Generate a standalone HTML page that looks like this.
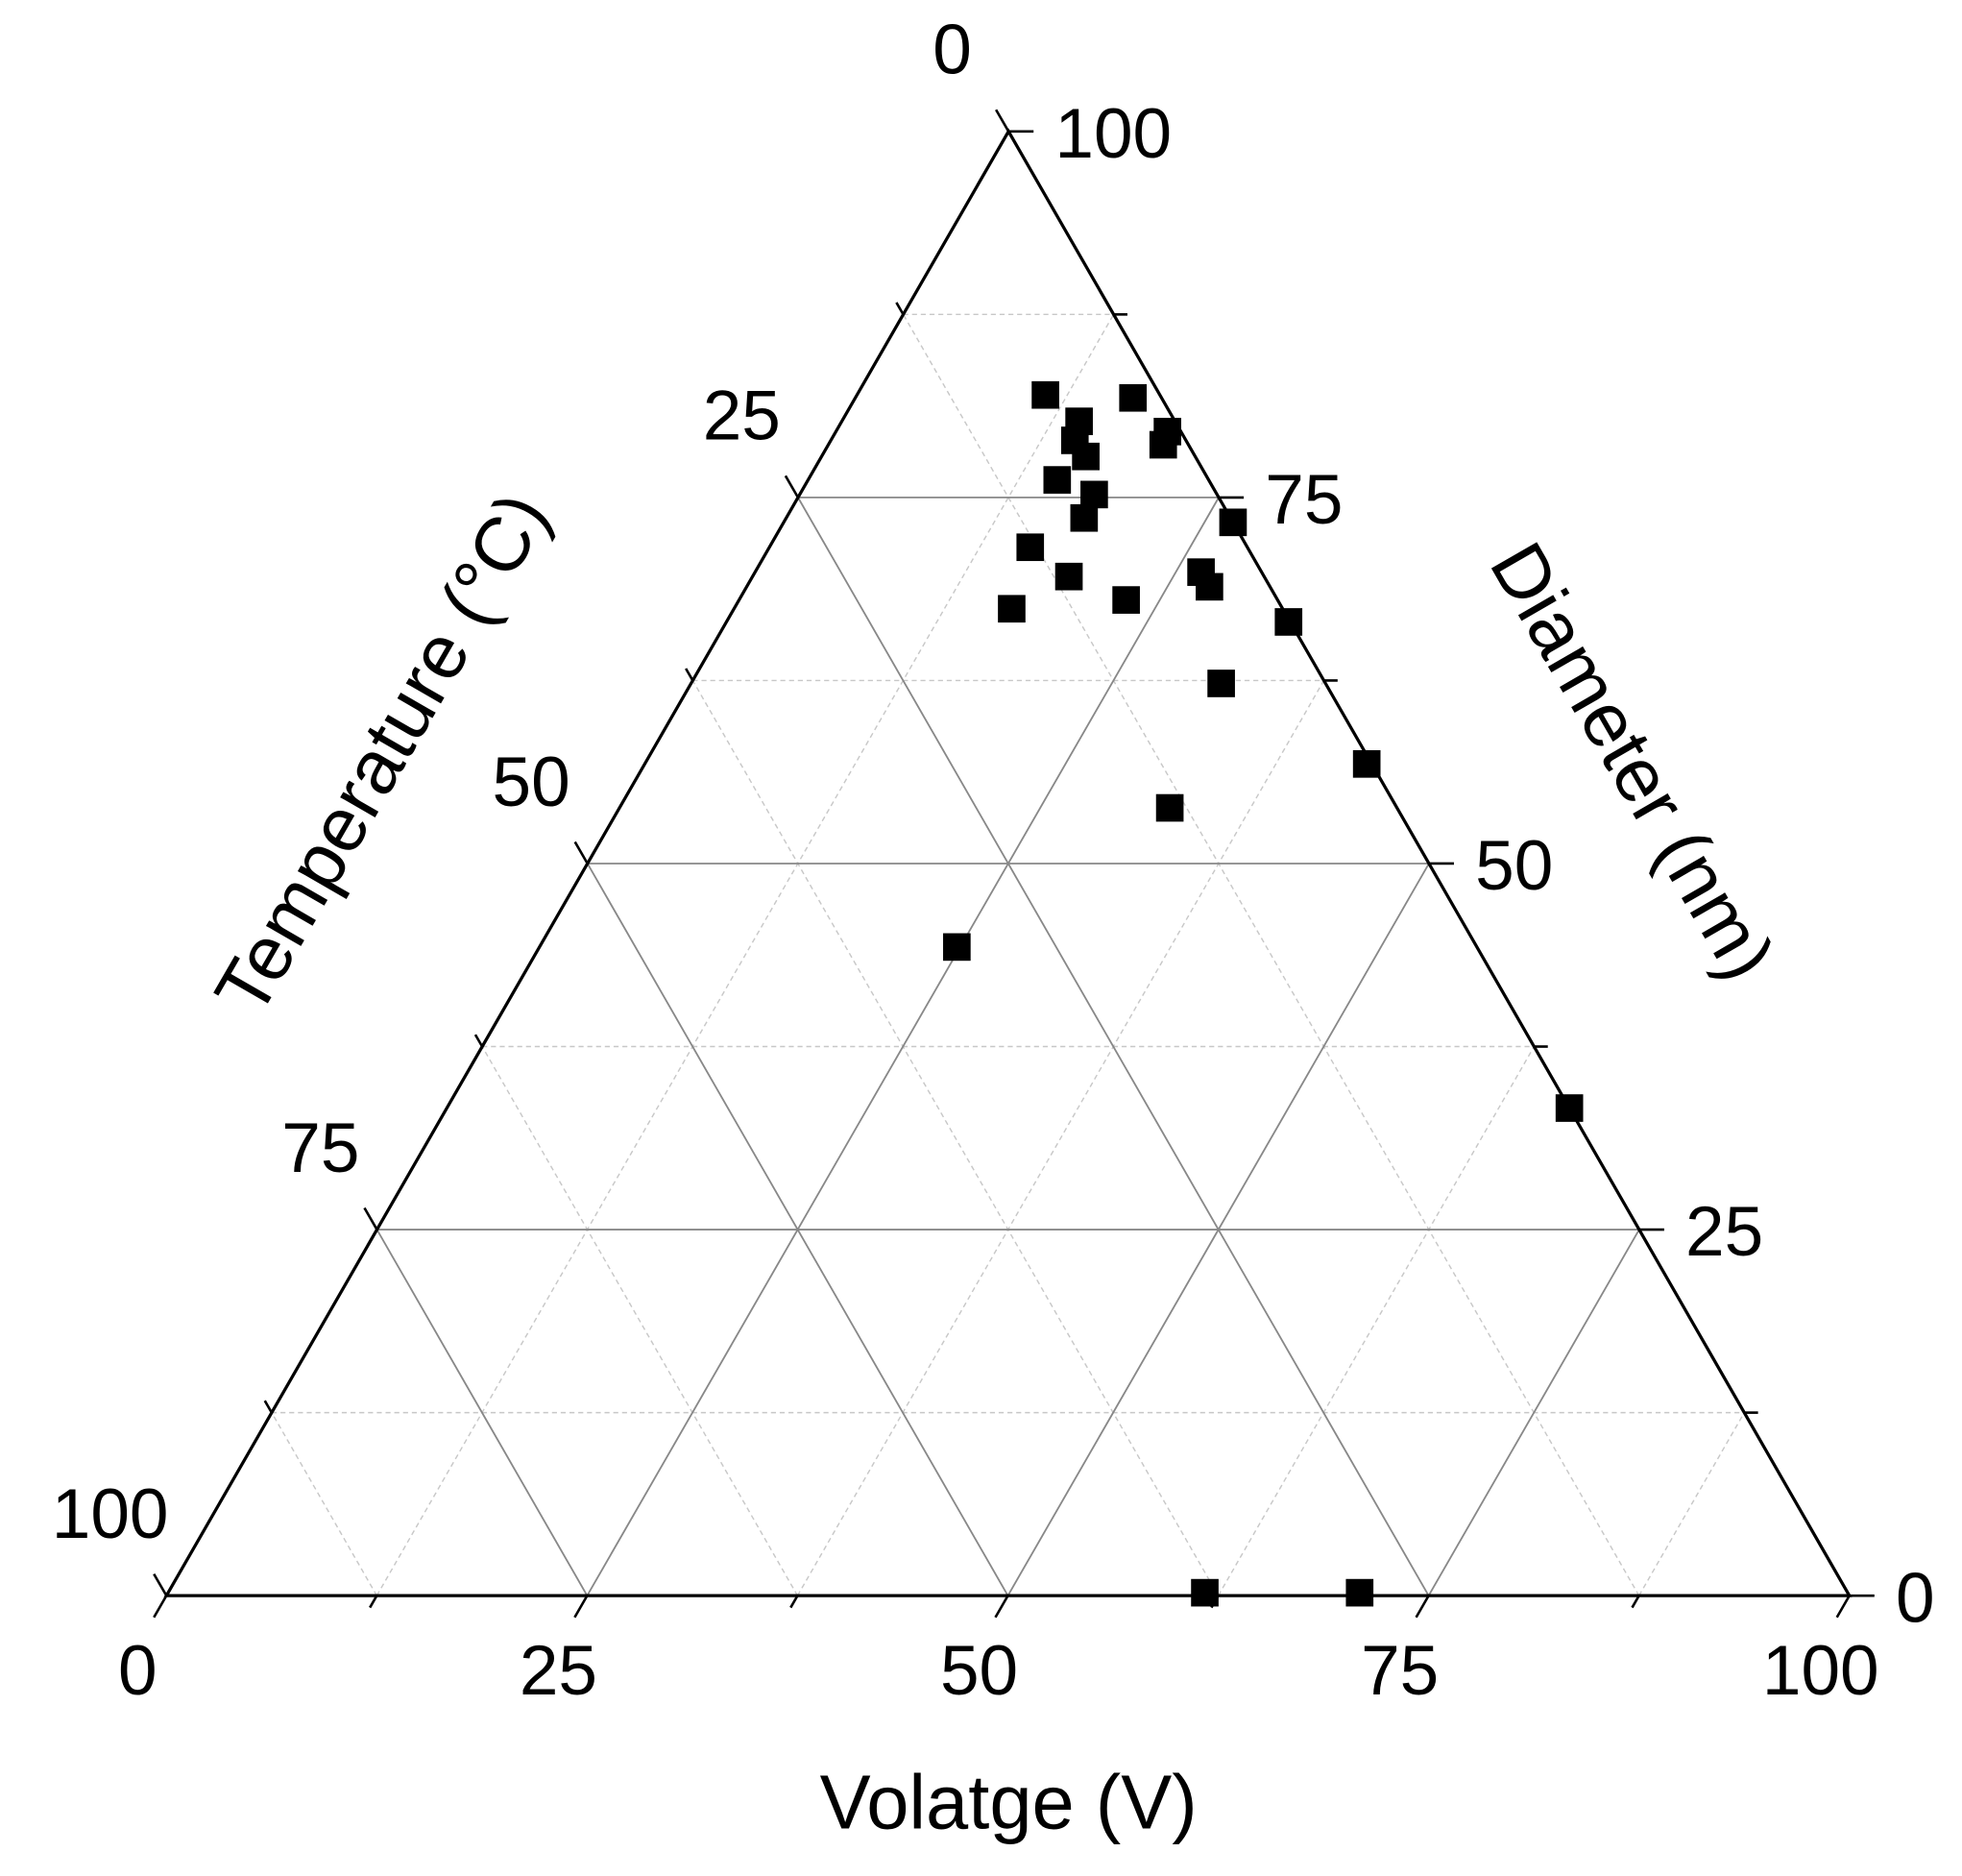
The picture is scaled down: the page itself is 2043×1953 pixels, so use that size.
<!DOCTYPE html>
<html><head><meta charset="utf-8"><style>
html,body{margin:0;padding:0;background:#fff;}
svg{display:block;}
text{font-family:"Liberation Sans",Arial,sans-serif;fill:#000;}
</style></head><body>
<svg id="chart" width="2043" height="1953" viewBox="0 0 1568 1499" preserveAspectRatio="none" xmlns="http://www.w3.org/2000/svg">
<g id="grid"></g>
<g id="axes"></g>
<g id="labels"></g>
<g id="points"></g>
<text x="806" y="1440" font-size="61" text-anchor="middle" dominant-baseline="central">Volatge (V)</text>
<text transform="translate(305,602) rotate(-60)" font-size="61" text-anchor="middle" dominant-baseline="central">Temperature (°C)</text>
<text transform="translate(1305,608) rotate(60)" font-size="61" text-anchor="middle" dominant-baseline="central">Diameter (nm)</text>
</svg>
<script>
const majorTicks = [0, 25, 50, 75, 100];
const minorTicks = [12.5, 37.5, 62.5, 87.5];
const diameterValues = [82.0,81.8,80.2,79.5,78.9,77.8,78.6,76.2,75.2,73.6,73.3,71.6,69.9,69.6,68.9,68.0,67.4,66.5,62.3,56.8,53.8,44.3,33.3,0.2,0.2];
const voltageValues = [11.2,16.5,14.1,19.7,14.5,15.7,19.9,14.8,17.5,17.7,26.7,15.5,26.5,18.8,27.5,23.0,16.5,33.4,31.5,42.9,32.7,24.8,66.7,61.6,70.8];

const NS = 'http://www.w3.org/2000/svg';
const BL = [133,1275], BR = [1478,1275], TOP = [806,105];
function pos(v, d) {
  const t = 100 - v - d;
  return [(t*BL[0] + v*BR[0] + d*TOP[0]) / 100, (t*BL[1] + v*BR[1] + d*TOP[1]) / 100];
}
function mk(tag, attrs, parent) {
  const e = document.createElementNS(NS, tag);
  for (const k in attrs) e.setAttribute(k, attrs[k]);
  parent.appendChild(e);
  return e;
}
const grid = document.getElementById('grid');
const axes = document.getElementById('axes');
const labels = document.getElementById('labels');
const pts = document.getElementById('points');

function gridLines(vals, major) {
  vals.forEach(k => {
    if (k <= 0 || k >= 100) return;
    const style = major ? {stroke:'#888', 'stroke-width':1.4} : {stroke:'#c8c8c8', 'stroke-width':1.1, 'stroke-dasharray':'4,3'};
    let a = pos(0, k), b = pos(100 - k, k);
    let l = mk('line', Object.assign({x1:a[0], y1:a[1], x2:b[0], y2:b[1]}, style), grid);
    
    
    a = pos(k, 0); b = pos(k, 100 - k);
    l = mk('line', Object.assign({x1:a[0], y1:a[1], x2:b[0], y2:b[1]}, style), grid);
    
    
    a = pos(100 - k, 0); b = pos(0, 100 - k);
    l = mk('line', Object.assign({x1:a[0], y1:a[1], x2:b[0], y2:b[1]}, style), grid);
    
    
  });
}
gridLines(minorTicks, false);
gridLines(majorTicks, true);

const tri = mk('polygon', {points: [BL, BR, TOP].map(p => p.join(',')).join(' '), fill:'none', stroke:'#000', 'stroke-width':2.5}, axes);



function tick(p, dx, dy, len) {
  const l = mk('line', {x1:p[0], y1:p[1], x2:p[0]+dx*len, y2:p[1]+dy*len, stroke:'#000', 'stroke-width':2}, axes);
  
  
}
const all = majorTicks.concat(minorTicks);
all.forEach(k => {
  const len = majorTicks.includes(k) ? 20 : 11;
  tick(pos(k, 0), -0.5, 0.866, len);
  tick(pos(100 - k, k), 1, 0, len);
  tick(pos(0, 100 - k), -0.5, -0.866, len);
});

function label(txt, x, y, anchor, name) {
  const t = mk('text', {x:x, y:y, 'font-size':56, 'text-anchor':anchor, 'dominant-baseline':'central'}, labels);
  t.textContent = txt;
  
  
}
majorTicks.forEach(k => {
  let p = pos(k, 0);
  label(String(k), p[0] - 23, p[1] + 60, 'middle', 'voltage-tick-label');
  p = pos(100 - k, k);
  label(String(k), p[0] + 37, p[1] + 2, 'start', 'diameter-tick-label');
  p = pos(0, 100 - k);
  label(String(k), p[0] - 45, p[1] - 65, 'middle', 'temperature-tick-label');
});

diameterValues.forEach((d, i) => {
  const p = pos(voltageValues[i], d);
  const r = mk('rect', {x:p[0] - 11, y:p[1] - 11, width:22, height:22, fill:'#000'}, pts);
  
  
});
</script>
</body></html>
